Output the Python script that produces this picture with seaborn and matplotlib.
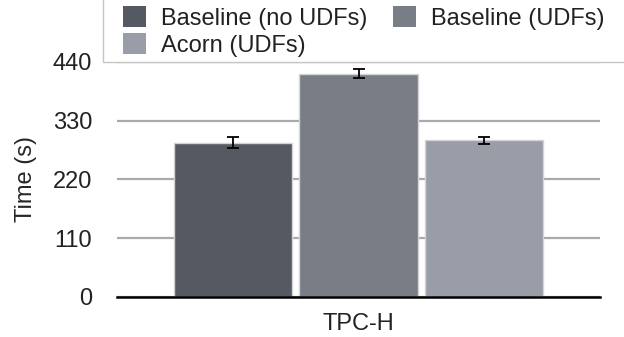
import matplotlib
matplotlib.use('Agg')
import matplotlib.pyplot as plt
import seaborn as sns
import pandas as pd
from matplotlib.patches import Rectangle

# --- data ---
benchmark = ['TPC-H']
systems = ['Baseline (no UDFs)', 'Baseline (UDFs)', 'Acorn (UDFs)']
times = [289, 418, 293]
errors = [10, 8.5, 6.5]
colors = ['#545962', '#797e86', '#999da8']
yticks = [0, 110, 220, 330, 440]

df = pd.DataFrame({'benchmark': benchmark * len(systems), 'system': systems, 'time': times})

sns.set_theme(style='whitegrid')
plt.rcParams['font.family'] = ['Liberation Sans', 'DejaVu Sans']
plt.rcParams['text.color'] = '#222222'
plt.rcParams['xtick.color'] = '#222222'
plt.rcParams['ytick.color'] = '#222222'

W, H = 624, 337
fig = plt.figure(figsize=(W / 100, H / 100), dpi=100)
ax = fig.add_axes([117 / W, 1 - 296.7 / H, (600 - 117) / W, (296.7 - 62) / H])

sns.barplot(data=df, x='benchmark', y='time', hue='system', hue_order=systems,
            palette=colors, saturation=1, width=0.78, gap=0.06,
            edgecolor='#d4d4d4', linewidth=1, errorbar=None, ax=ax)

# error bars on top of each bar
for cont, err in zip(ax.containers, errors):
    bar = cont[0]
    ax.errorbar(bar.get_x() + bar.get_width() / 2, bar.get_height(), yerr=err,
                fmt='none', ecolor='black', elinewidth=1.3, capsize=4.3, capthick=1.3, zorder=4)

leg = ax.get_legend()
handles = leg.legend_handles
labels = [t.get_text() for t in leg.get_texts()]
leg.remove()

ax.set_xlim(-0.5, 0.5)
ax.set_ylim(0, 440)
ax.set_yticks(yticks)
ax.set_xlabel('')
ax.set_ylabel('Time (s)', fontsize=17)
ax.yaxis.set_label_coords((37 - 117) / (600 - 117), 0.5)
ax.yaxis.grid(True, color='#aaaaaa', lw=1.6)
ax.xaxis.grid(False)
for s in ['top', 'left', 'right']:
    ax.spines[s].set_visible(False)
ax.spines['bottom'].set_color('black')
ax.spines['bottom'].set_linewidth(1.8)
ax.tick_params(axis='y', length=0, pad=18, labelsize=17)
ax.tick_params(axis='x', length=0, pad=12, labelsize=17)

# legend box (its top and right edges run off the figure)
fig.add_artist(Rectangle((103 / W, 1 - 62 / H), 1, 1, transform=fig.transFigure,
                         facecolor='white', edgecolor='#c6c6c6', lw=1, zorder=3))
order = [0, 2, 1]
lg = fig.legend([handles[i] for i in order], [labels[i] for i in order], ncol=2,
                loc='upper left', bbox_to_anchor=(123 / W, 1 - 6 / H), frameon=False,
                fontsize=17, handlelength=0.98, handleheight=1.0, handletextpad=0.65,
                columnspacing=1.06, labelspacing=0.15, borderpad=0, borderaxespad=0)
lg.set_zorder(5)
for h in lg.legend_handles:
    h.set_edgecolor('none')

fig.savefig('out.png', dpi=100)
